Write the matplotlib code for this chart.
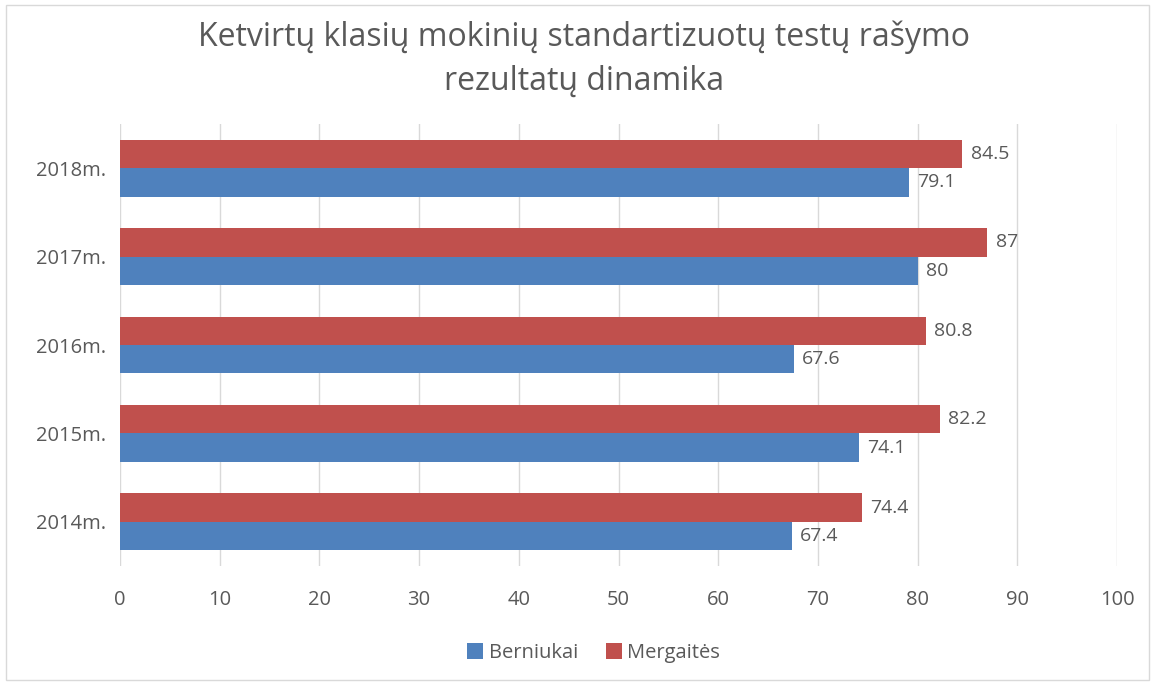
import matplotlib.pyplot as plt
import numpy as np

plt.rcParams['font.family'] = ['Open Sans', 'DejaVu Sans']

years = ['2014m.', '2015m.', '2016m.', '2017m.', '2018m.']
berniukai = [67.4, 74.1, 67.6, 80, 79.1]
mergaites = [74.4, 82.2, 80.8, 87, 84.5]
xticks = [0, 10, 20, 30, 40, 50, 60, 70, 80, 90, 100]

blue = '#4F81BD'
red = '#C0504D'
txt = '#595959'

fig = plt.figure(figsize=(11.55, 6.85), dpi=100)
ax = fig.add_axes([0.1039, 0.1737, 0.8632, 0.6453])

y = np.arange(len(years))
h = 0.322
b1 = ax.barh(y - h / 2, berniukai, height=h, color=blue, label='Berniukai', zorder=3)
b2 = ax.barh(y + h / 2, mergaites, height=h, color=red, label='Mergaitės', zorder=3)

def fmt(v):
    return '%g' % v

for bars, vals in ((b1, berniukai), (b2, mergaites)):
    for bar, v in zip(bars, vals):
        ax.annotate(fmt(v), (bar.get_width(), bar.get_y() + bar.get_height() / 2),
                    xytext=(6, 0), textcoords='offset points', va='center', ha='left',
                    fontsize=14, color=txt)

ax.set_xlim(0, 100)
ax.set_ylim(-0.5, len(years) - 0.5)
ax.set_xticks(xticks)
ax.set_yticks(y)
ax.set_yticklabels(years)
ax.grid(axis='x', color='#D9D9D9', linewidth=1, zorder=0)
ax.tick_params(length=0, labelsize=14.5, labelcolor=txt)
ax.tick_params(axis='x', pad=17)
ax.tick_params(axis='y', pad=10)
for s in ax.spines.values():
    s.set_visible(False)

fig.text(0.506, 0.914, 'Ketvirtų klasių mokinių standartizuotų testų rašymo\nrezultatų dinamika',
         ha='center', va='center', fontsize=23, color=txt, linespacing=1.42)

fig.legend(handles=[b1, b2], loc='center', bbox_to_anchor=(0.514, 0.047), ncol=2,
           frameon=False, fontsize=14.5, labelcolor=txt, handlelength=0.8, handleheight=0.8,
           handletextpad=0.25, columnspacing=1.4)

border = plt.Rectangle((0.005, 0.008), 0.99, 0.984, transform=fig.transFigure,
                       fill=False, edgecolor='#D9D9D9', linewidth=1)
fig.patches.append(border)

fig.savefig('out.png', dpi=100)
